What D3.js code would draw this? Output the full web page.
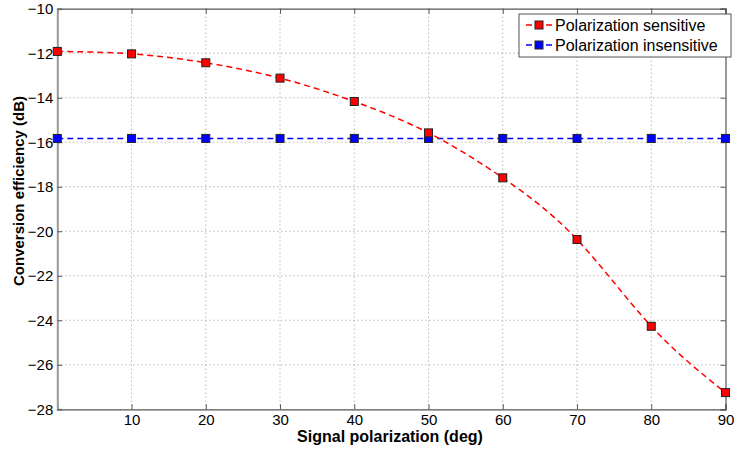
<!DOCTYPE html>
<html><head><meta charset="utf-8">
<script src="https://cdn.jsdelivr.net/npm/d3@7"></script>
<style>body{margin:0;background:#fff;} svg{display:block;font-family:"Liberation Sans",Arial,sans-serif;}</style>
</head><body>
<svg id="c" width="735" height="451"></svg>
<script>
const angles = [0,10,20,30,40,50,60,70,80,90];
const sensitive = [-11.92,-12.03,-12.43,-13.12,-14.17,-15.58,-17.6,-20.37,-24.27,-27.25];
const insensitive = [-15.83,-15.83,-15.83,-15.83,-15.83,-15.83,-15.83,-15.83,-15.83,-15.83];
const xTicks = [10,20,30,40,50,60,70,80,90];
const yTicks = [-10,-12,-14,-16,-18,-20,-22,-24,-26,-28];
const seriesNames = ["Polarization sensitive","Polarization insensitive"];
const seriesColors = ["#ff0000","#0000ff"];

const svg = d3.select("#c");
const L=57.3,R=725.5,T=8.7,B=409.3;
const x = d3.scaleLinear().domain([0,90]).range([L,R]);
const y = d3.scaleLinear().domain([-28,-10]).range([B,T]);

// grid
const g = svg.append("g");
g.selectAll(".gx").data(xTicks.filter(d=>d<90)).enter().append("line")
 .attr("x1",d=>x(d)).attr("x2",d=>x(d)).attr("y1",T).attr("y2",B)
 .attr("stroke","#999").attr("stroke-width",1).attr("stroke-dasharray","1,3");
g.selectAll(".gy").data(yTicks.filter(d=>d>-28&&d<-10)).enter().append("line")
 .attr("y1",d=>y(d)).attr("y2",d=>y(d)).attr("x1",L).attr("x2",R)
 .attr("stroke","#999").attr("stroke-width",1).attr("stroke-dasharray","1,3");

// axes
const xa = svg.append("g").attr("transform",`translate(0,${B})`)
 .call(d3.axisBottom(x).tickValues(xTicks).tickSize(-5).tickPadding(5).tickFormat(d3.format("d")));
const xt = svg.append("g").attr("transform",`translate(0,${T})`)
 .call(d3.axisTop(x).tickValues(xTicks).tickSize(-5).tickFormat(""));
const ya = svg.append("g").attr("transform",`translate(${L},0)`)
 .call(d3.axisLeft(y).tickValues(yTicks).tickSize(-5).tickPadding(4).tickFormat(d3.format("d")));
const yr = svg.append("g").attr("transform",`translate(${R},0)`)
 .call(d3.axisRight(y).tickValues(yTicks).tickSize(-5).tickFormat(""));
[xa,xt,ya,yr].forEach(a=>{
  a.selectAll("path").attr("stroke","#555").attr("stroke-width",1.2);
  a.selectAll("line").attr("stroke","#555");
  a.selectAll("text").attr("font-size",15).attr("fill","#000").attr("font-family","Liberation Sans, Arial, sans-serif");
});
ya.selectAll("text").attr("x",-4);
ya.select("path").attr("stroke","#999").attr("stroke-width",2);

// lines
const lineS = d3.line().x((d,i)=>x(angles[i])).y(d=>y(d)).curve(d3.curveNatural);
const lineI = d3.line().x((d,i)=>x(angles[i])).y(d=>y(d));
svg.append("path").attr("d",lineI(insensitive)).attr("fill","none")
 .attr("stroke",seriesColors[1]).attr("stroke-width",1.5).attr("stroke-dasharray","6,4");
svg.append("path").attr("d",lineS(sensitive)).attr("fill","none")
 .attr("stroke",seriesColors[0]).attr("stroke-width",1.5).attr("stroke-dasharray","6,4");

const ms=8;
svg.selectAll(".mi").data(insensitive).enter().append("rect")
 .attr("x",(d,i)=>x(angles[i])-ms/2).attr("y",d=>y(d)-ms/2).attr("width",ms).attr("height",ms)
 .attr("fill",seriesColors[1]).attr("stroke","#222").attr("stroke-width",1);
svg.selectAll(".ms").data(sensitive).enter().append("rect")
 .attr("x",(d,i)=>x(angles[i])-ms/2).attr("y",d=>y(d)-ms/2).attr("width",ms).attr("height",ms)
 .attr("fill",seriesColors[0]).attr("stroke","#222").attr("stroke-width",1);

// axis labels
svg.append("text").attr("x",390).attr("y",442).attr("text-anchor","middle")
 .attr("font-size",16).attr("font-weight","bold").text("Signal polarization (deg)");
svg.append("text").attr("transform",`translate(24,191) rotate(-90)`).attr("text-anchor","middle")
 .attr("font-size",15).attr("font-weight","bold").text("Conversion efficiency (dB)");

// legend
const lg = svg.append("g");
lg.append("rect").attr("x",519).attr("y",14).attr("width",212).attr("height",43)
 .attr("fill","#fff").attr("stroke","#555").attr("stroke-width",1);
seriesNames.forEach((n,i)=>{
  const yy = 25+i*20;
  lg.append("line").attr("x1",526).attr("x2",552).attr("y1",yy).attr("y2",yy)
   .attr("stroke",seriesColors[i]).attr("stroke-width",1.3).attr("stroke-dasharray","6,4");
  lg.append("rect").attr("x",539-ms/2).attr("y",yy-ms/2).attr("width",ms).attr("height",ms)
   .attr("fill",seriesColors[i]).attr("stroke","#222");
  lg.append("text").attr("x",555).attr("y",yy+5.5).attr("font-size",16).text(n);
});
</script>
</body></html>
